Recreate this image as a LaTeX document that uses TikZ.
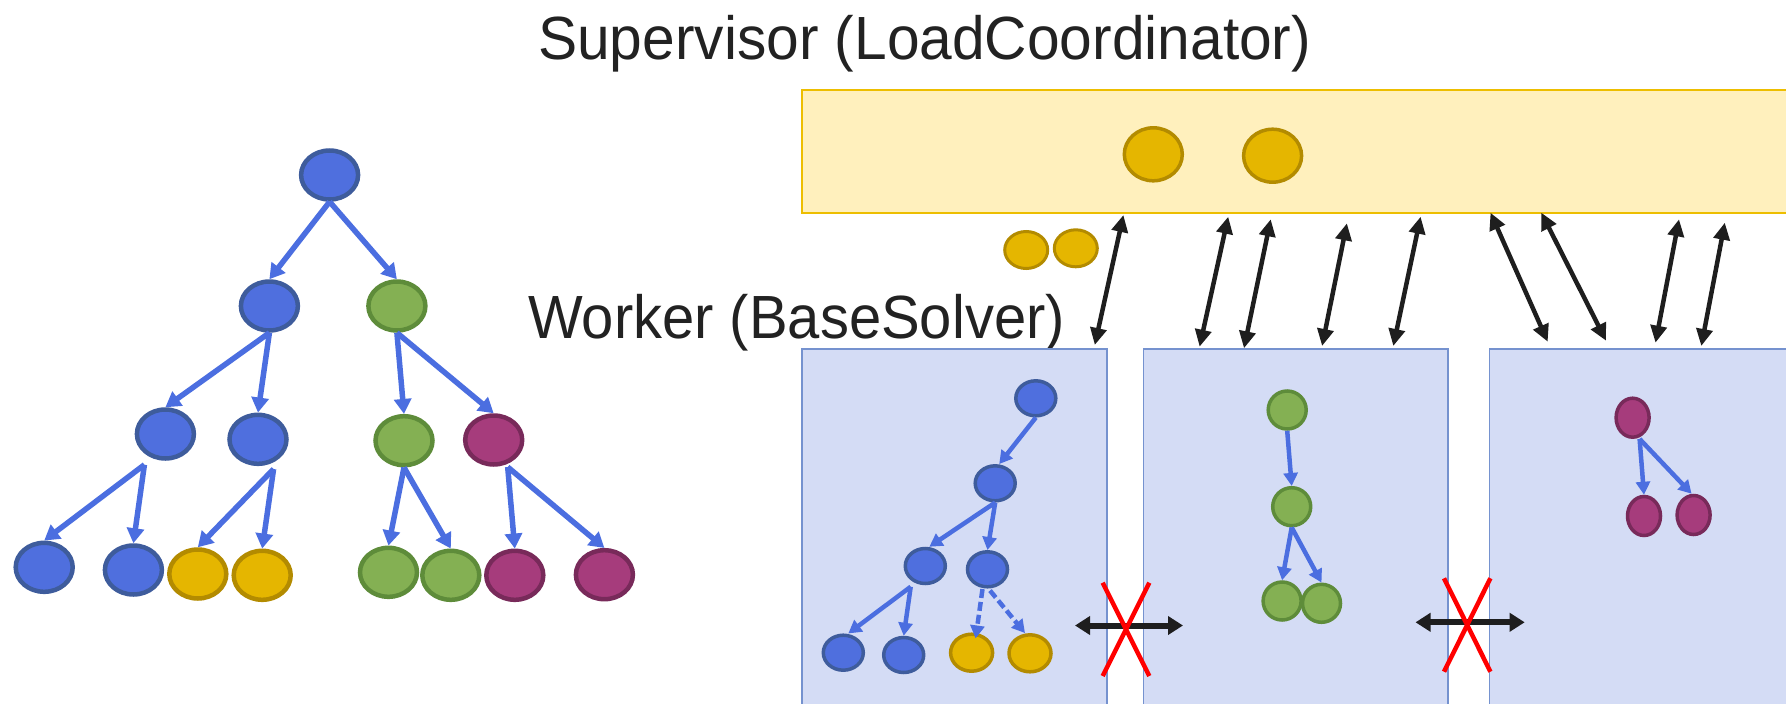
\documentclass[tikz,border=0pt]{standalone}
\usepackage{fontspec}
\setmainfont{Liberation Sans}
\usetikzlibrary{shapes.geometric,arrows.meta,calc}

\definecolor{bluefill}{HTML}{4F6FDE}
\definecolor{blueline}{HTML}{3E5C9C}
\definecolor{greenfill}{HTML}{84B053}
\definecolor{greenline}{HTML}{5E8C3A}
\definecolor{magfill}{HTML}{A63C7C}
\definecolor{magline}{HTML}{782A5A}
\definecolor{yelfill}{HTML}{E5B600}
\definecolor{yelline}{HTML}{B38B00}
\definecolor{edgeblue}{HTML}{4B6EE0}
\definecolor{supfill}{HTML}{FFF0BD}
\definecolor{supline}{HTML}{EDBE00}
\definecolor{wfill}{HTML}{D4DCF5}
\definecolor{wline}{HTML}{7592CF}
\definecolor{txt}{HTML}{222222}
\definecolor{msg}{HTML}{1E1E1E}

\tikzset{
  big/.style={ellipse, inner sep=0pt, line width=4.5pt, minimum width=57pt, minimum height=49pt},
  small/.style={ellipse, inner sep=0pt, line width=3.5pt, minimum width=40pt, minimum height=35pt},
  bn/.style={draw=blueline, fill=bluefill},
  gn/.style={draw=greenline, fill=greenfill},
  mn/.style={draw=magline, fill=magfill},
  yn/.style={draw=yelline, fill=yelfill},
  treearrow/.style={draw=edgeblue, line width=5.5pt, -{Triangle[width=17pt,length=15pt]}},
  subarrow/.style={draw=edgeblue, line width=4.5pt, -{Triangle[width=14pt,length=13pt]}},
  msgarrow/.style={draw=msg, line width=4.5pt, {Triangle[width=16pt,length=17pt]}-{Triangle[width=16pt,length=17pt]}},
  blocked/.style={draw=msg, line width=6pt, {Triangle[width=18pt,length=15pt]}-{Triangle[width=18pt,length=15pt]}},
  cross/.style={draw=red, line width=4.5pt},
  workerbox/.style={rectangle, draw=wline, fill=wfill, line width=1.5pt, anchor=north west, inner sep=0pt},
  titletext/.style={anchor=base west, inner sep=0pt, text=txt, font=\fontsize{61}{70}\selectfont}
}

\begin{document}
\begin{tikzpicture}[x=1pt, y=-1pt]
\useasboundingbox (0,0) rectangle (1786,704);

% ---------- global search tree ----------
\node[big,bn] (r)   at (329.6,175) {};
\node[big,bn] (b1)  at (269.4,306) {};
\node[big,gn] (g1)  at (396.9,306) {};
\node[big,bn] (b2)  at (165.4,434) {};
\node[big,bn] (b3)  at (258.0,439.3) {};
\node[big,gn] (g2)  at (404.0,440.7) {};
\node[big,mn] (m1)  at (493.7,440) {};
\node[big,bn] (l1)  at (44.2,567.3) {};
\node[big,bn] (l2)  at (133.4,570) {};
\node[big,yn] (l3)  at (197.8,574) {};
\node[big,yn] (l4)  at (262.2,575.3) {};
\node[big,gn] (l5)  at (388.5,572.3) {};
\node[big,gn] (l6)  at (450.8,575.3) {};
\node[big,mn] (l7)  at (514.8,575.3) {};
\node[big,mn] (l8)  at (604.4,574.7) {};

\draw[treearrow] (r.south) -- (b1.north);
\draw[treearrow] (r.south) -- (g1.north);
\draw[treearrow] (b1.south) -- (b2.north);
\draw[treearrow] (b1.south) -- (b3.north);
\draw[treearrow] (g1.south) -- (g2.north);
\draw[treearrow] (g1.south) -- (m1.north);
\draw[treearrow] ($(b2.south)+(-21,4)$) -- (l1.north);
\draw[treearrow] ($(b2.south)+(-21,4)$) -- (l2.north);
\draw[treearrow] ($(b3.south)+(15.6,3)$) -- (l3.north);
\draw[treearrow] ($(b3.south)+(15.6,3)$) -- (l4.north);
\draw[treearrow] (g2.south) -- (l5.north);
\draw[treearrow] (g2.south) -- (l6.north);
\draw[treearrow] ($(m1.south)+(14,0.3)$) -- (l7.north);
\draw[treearrow] ($(m1.south)+(14,0.3)$) -- (l8.north);

% ---------- labels ----------
\node[titletext] (suptitle) at (538,59) {\scalebox{0.962}[1]{Supervisor (LoadCoordinator)}};
\node[titletext] (worktitle) at (528,338) {\scalebox{0.950}[1]{Worker (BaseSolver)}};

% ---------- supervisor ----------
\node[rectangle, draw=supline, fill=supfill, line width=1.5pt, anchor=north west, inner sep=0pt,
      minimum width=1010pt, minimum height=123pt] (sup) at (801,89) {};
\node[ellipse, inner sep=0pt, line width=3.5pt, minimum width=58pt, minimum height=53pt, yn] (s1) at (1153.3,154.3) {};
\node[ellipse, inner sep=0pt, line width=3.5pt, minimum width=58pt, minimum height=53pt, yn] (s2) at (1272.6,155.7) {};

% pool of open nodes on the way
\node[ellipse, inner sep=0pt, line width=3pt, minimum width=43pt, minimum height=37pt, yn] (p1) at (1026.2,250) {};
\node[ellipse, inner sep=0pt, line width=3pt, minimum width=43pt, minimum height=37pt, yn] (p2) at (1075.8,248.3) {};

% ---------- workers ----------
\node[workerbox, minimum width=305pt, minimum height=380pt] (w1) at (801,348) {};
\node[workerbox, minimum width=304.5pt, minimum height=380pt] (w2) at (1142.5,348) {};
\node[workerbox, minimum width=330pt, minimum height=380pt] (w3) at (1488.6,348) {};

% worker 1 subtree
\node[small,bn] (n1) at (1035.8,398.3) {};
\node[small,bn] (n2) at (995.2,483.3) {};
\node[small,bn] (n3) at (925.3,566) {};
\node[small,bn] (n4) at (987.5,569.3) {};
\node[small,bn] (n5) at (843.3,652.7) {};
\node[small,bn] (n6) at (903.7,655) {};
\node[small,yn, minimum width=42pt, minimum height=37pt] (n7) at (971.6,652.7) {};
\node[small,yn, minimum width=42pt, minimum height=37pt] (n8) at (1030,653.3) {};

\draw[subarrow] (n1.south) -- ($(n2.north)+(4,0)$);
\draw[subarrow] (n2.south) -- ($(n3.north)+(4,0)$);
\draw[subarrow] (n2.south) -- (n4.north);
\draw[subarrow] ($(n3.south)+(-14.6,1.5)$) -- ($(n5.north)+(5,0)$);
\draw[subarrow] ($(n3.south)+(-14.6,1.5)$) -- (n6.north);
\draw[subarrow, dash pattern=on 9pt off 4pt] ($(n4.south)+(-5,0.5)$) -- ($(n7.north)+(4,6)$);
\draw[subarrow, dash pattern=on 9pt off 4pt] ($(n4.south)+(2.5,2)$) -- ($(n8.north)+(-5,0)$);

% worker 2 subtree
\node[small,gn, minimum width=38pt, minimum height=38pt] (q1) at (1287.2,410) {};
\node[small,gn, minimum width=38pt, minimum height=38pt] (q2) at (1291.7,506.7) {};
\node[small,gn, minimum width=38pt, minimum height=38pt] (q3) at (1282.1,601) {};
\node[small,gn, minimum width=38pt, minimum height=38pt] (q4) at (1321.5,603.3) {};

\draw[subarrow] (q1.south) -- (q2.north);
\draw[subarrow] (q2.south) -- (q3.north);
\draw[subarrow] (q2.south) -- (q4.north);

% worker 3 subtree
\node[small,mn, minimum width=33pt, minimum height=39pt] (k1) at (1632.6,417.7) {};
\node[small,mn, minimum width=33pt, minimum height=39pt] (k2) at (1644,516) {};
\node[small,mn, minimum width=33pt, minimum height=39pt] (k3) at (1693.6,515) {};

\draw[subarrow] ($(k1.south)+(7,0)$) -- (k2.north);
\draw[subarrow] ($(k1.south)+(7,0)$) -- ($(k3.north)+(-2,0)$);

% ---------- supervisor <-> worker messages ----------
\coordinate (t1) at (1123.4,215);   \coordinate (d1) at (1094.8,345);
\coordinate (t2) at (1228.2,216.7); \coordinate (d2) at (1199.6,346.7);
\coordinate (t3) at (1270.7,219.3); \coordinate (d3) at (1244,348.3);
\coordinate (t4) at (1346.9,223.3); \coordinate (d4) at (1322.1,346);
\coordinate (t5) at (1420.6,216.7); \coordinate (d5) at (1393.3,346);
\coordinate (t6) at (1490.5,212.7); \coordinate (d6) at (1547.7,341.7);
\coordinate (t7) at (1541.3,212.7); \coordinate (d7) at (1606,340.7);
\coordinate (t8) at (1679,219.3);   \coordinate (d8) at (1655.5,342.7);
\coordinate (t9) at (1724.8,222.7); \coordinate (d9) at (1701.3,346);
\foreach \i in {1,...,9} { \draw[msgarrow] (t\i) -- (d\i); }

% ---------- no worker-to-worker communication ----------
\coordinate (x1l) at (1075,625.5);   \coordinate (x1r) at (1183,625.5);
\coordinate (x2l) at (1415.5,622.3); \coordinate (x2r) at (1524.7,622.3);
\draw[blocked] (x1l) -- (x1r);
\draw[blocked] (x2l) -- (x2r);

\coordinate (c1a) at (1102.7,582.7); \coordinate (c1b) at (1149.3,676);
\coordinate (c1c) at (1149.3,582.7); \coordinate (c1d) at (1102.7,676);
\draw[cross] (c1a) -- (c1b);
\draw[cross] (c1c) -- (c1d);
\coordinate (c2a) at (1444,578.3);   \coordinate (c2b) at (1490.4,671.7);
\coordinate (c2c) at (1490.4,578.3); \coordinate (c2d) at (1444,671.7);
\draw[cross] (c2a) -- (c2b);
\draw[cross] (c2c) -- (c2d);
\end{tikzpicture}
\end{document}
